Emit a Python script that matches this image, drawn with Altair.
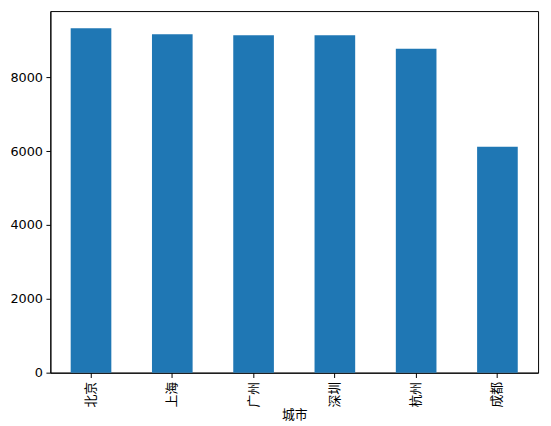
import altair as alt
import pandas as pd

categories = ["北京", "上海", "广州", "深圳", "杭州", "成都"]
values = [9325, 9166, 9139, 9139, 8768, 6119]
x_title = "城市"
y_ticks = [0, 2000, 4000, 6000, 8000]

df = pd.DataFrame({"cat": categories, "val": values})

chart = alt.Chart(df).mark_bar(color="#1f77b4").encode(
    x=alt.X("cat:N", sort=categories, title=x_title,
            scale=alt.Scale(paddingInner=0.5, paddingOuter=0.25),
            axis=alt.Axis(labelAngle=-90, labelFont="Noto Sans CJK SC", labelFontSize=13,
                          labelColor="black", titleFont="Noto Sans CJK SC", titleFontSize=13,
                          titleFontWeight="normal", titleColor="black", tickSize=4.9,
                          tickColor="black", domainColor="black", labelPadding=4, titlePadding=2)),
    y=alt.Y("val:Q", title=None,
            scale=alt.Scale(domain=[0, 9791], nice=False, zero=True),
            axis=alt.Axis(values=y_ticks, format="d", grid=False, labelFont="DejaVu Sans",
                          labelFontSize=13, labelColor="black", tickSize=4.5, tickColor="black",
                          domainColor="black", labelPadding=3.5)),
).properties(
    width=495, height=367,
    padding={"left": 43, "top": 0, "right": 5, "bottom": 51},
    autosize=alt.AutoSizeParams(type="none"),
).configure_view(stroke="black", strokeWidth=1)

chart.save("out.html", embed_options={"renderer": "svg", "actions": False})
